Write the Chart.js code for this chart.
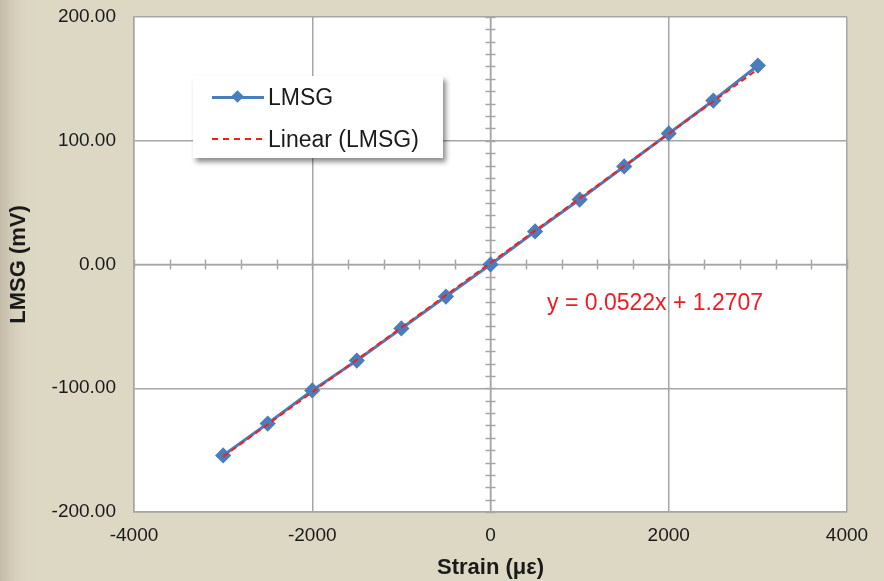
<!DOCTYPE html>
<html>
<head>
<meta charset="utf-8">
<script src="https://cdn.jsdelivr.net/npm/chart.js@4.4.0/dist/chart.umd.min.js"></script>
<style>
html,body{margin:0;padding:0;}
body{
width:884px;height:581px;overflow:hidden;position:relative;
background:linear-gradient(to right,#c4bca8 0px,#cdc6b2 8px,#d6d0bc 16px,#dcd7c3 26px,#ddd8c4 40px);
font-family:"Liberation Sans",Arial,sans-serif;
}
#wrap{position:absolute;left:0;top:0;width:884px;height:581px;}
#legend{
position:absolute;left:193px;top:76px;width:250px;height:82px;background:#fff;
box-shadow:3px 4px 5px rgba(0,0,0,0.45);font-size:23px;color:#1a1a1a;
}
.row{position:absolute;left:0;width:250px;height:28px;line-height:28px;}
.row span{position:absolute;left:75px;top:0;white-space:nowrap;}
.blueLine{position:absolute;left:19px;top:13px;width:52px;height:3px;background:#4a7ebb;}
.diamond{position:absolute;left:40px;top:9px;width:9px;height:9px;background:#4a7ebb;transform:rotate(45deg);}
.redLine{position:absolute;left:19px;top:13px;width:50px;height:0;border-top:2px dashed #ff1a1a;}
#eq{position:absolute;left:547px;top:289px;font-size:23px;color:#ee1c25;white-space:nowrap;}
</style>
</head>
<body>
<div id="wrap"><canvas id="chart" width="884" height="581"></canvas></div>
<div id="legend">
<div class="row" style="top:7px;"><div class="blueLine"></div><div class="diamond"></div><span>LMSG</span></div>
<div class="row" style="top:49px;"><div class="redLine"></div><span>Linear (LMSG)</span></div>
</div>
<div id="eq">y = 0.0522x + 1.2707</div>
<script>
// measured data
const strain = [-3000,-2500,-2000,-1500,-1000,-500,0,500,1000,1500,2000,2500,3000];
const lmsg = [-154.3,-128.5,-101.8,-77.6,-51.7,-25.9,0,26.7,52.5,79.2,105.9,132.5,160.8];

// trendline ends (y = 0.0522x + 1.2707)
const trendX = [-3000,3000];
const trendY = [-155.3,157.9];

const xTicks = [-4000,-2000,0,2000,4000];
const yTicks = [-200,-100,0,100,200];

const gridColor = '#a6a6a6';
const textColor = '#1a1a1a';
const fontFamily = '"Liberation Sans", Arial, sans-serif';

const crossAxes = {
id:'crossAxes',
beforeDatasetsDraw(chart){
const c = chart.ctx;
const xs = chart.scales.x;
const ys = chart.scales.y;
const x0 = xs.getPixelForValue(0);
const y0 = ys.getPixelForValue(0);
c.save();
c.strokeStyle = gridColor;
c.lineWidth = 1.5;
c.beginPath();
c.moveTo(xs.left,y0);c.lineTo(xs.right,y0);
c.moveTo(x0,ys.top);c.lineTo(x0,ys.bottom);
// minor ticks on x axis
for(let v=-4000;v<=4000;v+=400){
const px = Math.round(xs.getPixelForValue(v))+0.5;
c.moveTo(px,y0-5);c.lineTo(px,y0+5);
}
// minor ticks on y axis
for(let v=-200;v<=200;v+=10){
const py = Math.round(ys.getPixelForValue(v))+0.5;
c.moveTo(x0-5,py);c.lineTo(x0+5,py);
}
c.stroke();
c.restore();
}
};

const plotBg = {
id:'plotBg',
beforeDraw(chart){
const a = chart.chartArea;
chart.ctx.save();
chart.ctx.fillStyle = '#ffffff';
chart.ctx.fillRect(a.left,a.top,a.right-a.left,a.bottom-a.top);
chart.ctx.restore();
}
};

const ctx = document.getElementById('chart');

new Chart(ctx,{
type:'scatter',
data:{
datasets:[
{
label:'LMSG',
data:strain.map((x,i)=>({x:x,y:lmsg[i]})),
showLine:true,
borderColor:'#4a7ebb',
backgroundColor:'#4a7ebb',
borderWidth:3,
pointStyle:'rectRot',
pointRadius:6,
pointHoverRadius:6,
order:2
},
{
label:'Linear (LMSG)',
data:trendX.map((x,i)=>({x:x,y:trendY[i]})),
showLine:true,
borderColor:'#ff1a1a',
borderWidth:2,
borderDash:[6,4],
pointRadius:0,
order:1
}
]
},
options:{
responsive:false,
animation:false,
layout:{padding:{top:17,right:37,left:6,bottom:0}},
plugins:{
legend:{display:false},
tooltip:{enabled:false}
},
scales:{
x:{
type:'linear',
min:-4000,max:4000,
afterBuildTicks(s){s.ticks = xTicks.map(v=>({value:v}));},
afterFit(s){s.height = 69;s.paddingLeft = 0;s.paddingRight = 0;},
grid:{color:gridColor,lineWidth:1.5,drawTicks:false},
border:{color:gridColor,width:1.5},
ticks:{color:textColor,font:{size:19,family:fontFamily},padding:12,maxRotation:0,callback:v=>String(v)},
title:{display:true,text:'Strain (με)',color:textColor,font:{size:22,weight:'bold',family:fontFamily},padding:{top:2,bottom:0}}
},
y:{
type:'linear',
min:-200,max:200,
afterBuildTicks(s){s.ticks = yTicks.map(v=>({value:v}));},
afterFit(s){s.width = 128;s.paddingTop = 0;s.paddingBottom = 0;},
grid:{color:gridColor,lineWidth:1.5,drawTicks:false},
border:{color:gridColor,width:1.5},
ticks:{color:textColor,font:{size:19,family:fontFamily},padding:18,callback:v=>v.toFixed(2)},
title:{display:true,text:'LMSG (mV)',color:textColor,font:{size:22,weight:'bold',family:fontFamily},padding:{top:0,bottom:0}}
}
}
},
plugins:[plotBg,crossAxes]
});
</script>
</body>
</html>
